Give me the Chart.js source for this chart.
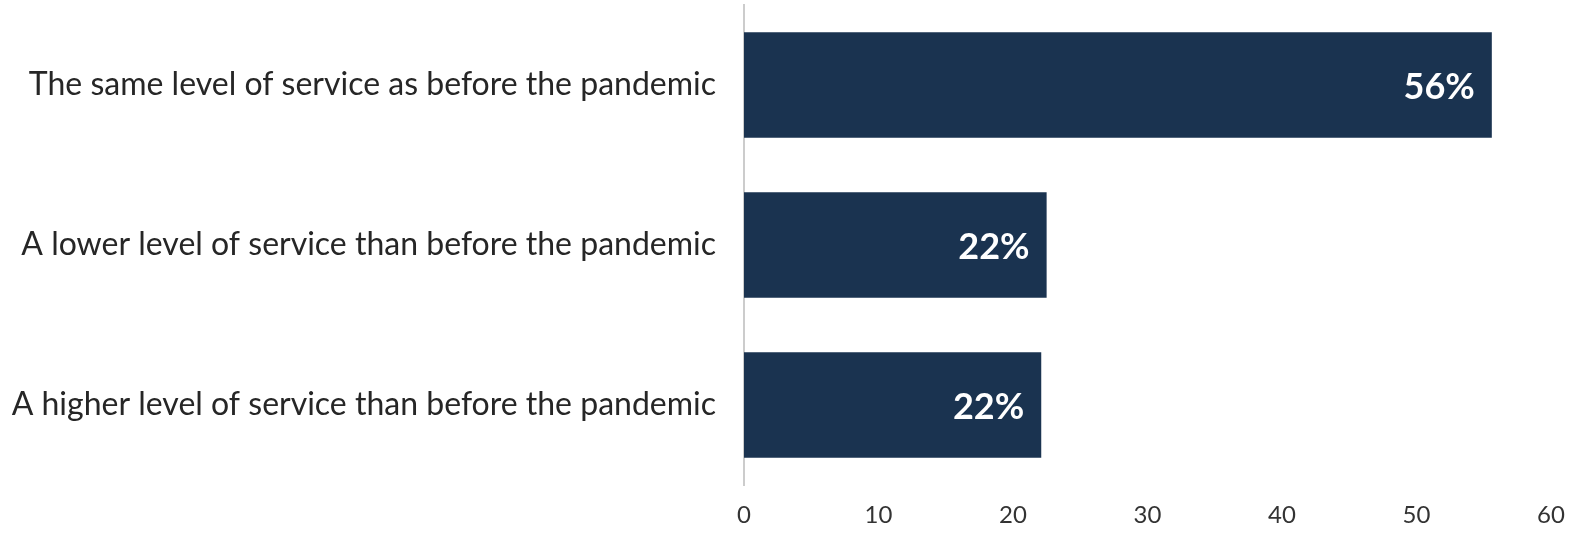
<!DOCTYPE html>
<html>
<head>
<meta charset="utf-8">
<script src="https://cdn.jsdelivr.net/npm/chart.js@4"></script>
<style>
html,body{margin:0;padding:0;background:#fff;}
#wrap{width:1577px;height:533px;position:relative;}
</style>
</head>
<body>
<div id="wrap"><canvas id="c"></canvas></div>
<script>
const categories = [
  "The same level of service as before the pandemic",
  "A lower level of service than before the pandemic",
  "A higher level of service than before the pandemic"
];
const values = [55.6, 22.5, 22.1];
const valueLabels = ["56%", "22%", "22%"];
const xTicks = [0, 10, 20, 30, 40, 50, 60];

const barLabels = {
  id: 'barLabels',
  afterDatasetsDraw(chart) {
    const ctx = chart.ctx;
    const meta = chart.getDatasetMeta(0);
    ctx.save();
    ctx.fillStyle = '#ffffff';
    ctx.font = 'bold 36px Lato';
    ctx.textAlign = 'right';
    ctx.textBaseline = 'middle';
    meta.data.forEach((bar, i) => {
      ctx.fillText(valueLabels[i], bar.x - 17, bar.y + 2);
    });
    ctx.restore();
  }
};

new Chart(document.getElementById('c'), {
  type: 'bar',
  data: {
    labels: categories,
    datasets: [{
      data: values,
      backgroundColor: '#1a3350',
      barPercentage: 0.66,
      categoryPercentage: 1.0
    }]
  },
  options: {
    indexAxis: 'y',
    responsive: true,
    maintainAspectRatio: false,
    animation: false,
    layout: { padding: { top: 5, right: 26, left: 0, bottom: 0 } },
    plugins: { legend: { display: false }, tooltip: { enabled: false } },
    scales: {
      x: {
        min: 0, max: 60,
        afterBuildTicks(axis) { axis.ticks = xTicks.map(v => ({ value: v })); },
        grid: { display: false, drawTicks: false },
        border: { display: false },
        ticks: { color: '#333333', font: { family: 'Lato', size: 24 }, padding: 16 },
        afterFit(axis) { axis.height = 48; axis.paddingLeft = 0; axis.paddingRight = 0; }
      },
      y: {
        grid: { display: false, drawTicks: false },
        border: { display: true, color: '#cccccc', width: 2 },
        ticks: { color: '#262626', font: { family: 'Lato', size: 32 }, padding: 28 },
        afterFit(axis) { axis.width = 744; axis.paddingTop = 0; axis.paddingBottom = 0; }
      }
    }
  },
  plugins: [barLabels]
});
</script>
</body>
</html>
